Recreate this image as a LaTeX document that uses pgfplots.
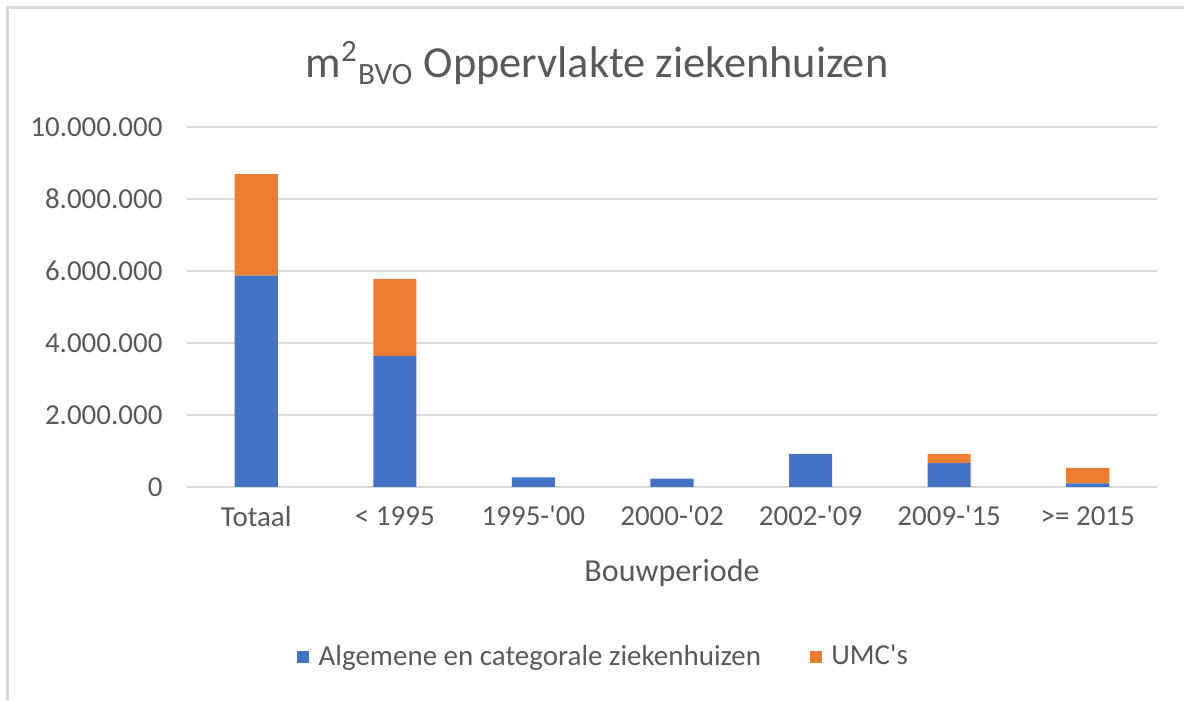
\documentclass[border=0pt]{standalone}
\usepackage{fontspec}
\setmainfont{Carlito}
\usepackage{pgfplots}
\pgfplotsset{compat=1.18}
\definecolor{xblue}{HTML}{4472C4}
\definecolor{xorange}{HTML}{ED7D31}
\definecolor{xtext}{HTML}{595959}
\definecolor{xgrid}{HTML}{D9D9D9}

\begin{document}
\begin{tikzpicture}
\begin{axis}[
  scale only axis, width=378.3pt, height=140.4pt,
  ybar stacked, bar width=16.8pt,
  xmin=-0.5, xmax=6.5, ymin=0, ymax=10000000,
  xtick={0,1,2,3,4,5,6},
  xticklabels={Totaal,< 1995,1995-\textquotesingle 00,2000-\textquotesingle 02,2002-\textquotesingle 09,2009-\textquotesingle 15,>= 2015},
  ytick={0,2000000,4000000,6000000,8000000,10000000},
  scaled y ticks=false,
  /pgf/number format/.cd, fixed, 1000 sep={.}, assume math mode=true, /pgfplots/.cd,
  axis line style={draw=none}, tick style={draw=none},
  ymajorgrids, grid style={xgrid,line width=0.8pt},
  ticklabel style={font=\fontsize{11.3}{13}\selectfont, text=xtext},
  xticklabel style={yshift=-4pt},
  yticklabel style={xshift=-6pt},
  xlabel={Bouwperiode},
  xlabel style={font=\fontsize{12.5}{15}\selectfont, text=xtext, at={(axis description cs:0.5,-0.239)}, anchor=center},
  legend style={draw=none, fill=none, at={(axis description cs:0.431,-0.472)}, anchor=center,
    font=\fontsize{11.3}{13}\selectfont, text=xtext, legend columns=2,
    /tikz/every even column/.append style={column sep=17pt}},
  legend image code/.code={\draw[#1,draw=none] (0pt,-2.4pt) rectangle (4.8pt,2.4pt); \path (6.4pt,0pt);},
]
\addplot[fill=xblue, draw=none] coordinates {(0,5870000) (1,3640000) (2,270000) (3,230000) (4,920000) (5,660000) (6,100000)};
\addplot[fill=xorange, draw=none] coordinates {(0,2820000) (1,2140000) (2,0) (3,0) (4,0) (5,260000) (6,430000)};
\legend{Algemene en categorale ziekenhuizen, UMC\textquotesingle s}
\coordinate (o) at (rel axis cs:0,0);
\coordinate (t) at (rel axis cs:1,1);
\end{axis}
\path[use as bounding box] ([shift={(-72.9pt,-83.1pt)}]o) rectangle ([shift={(10.5pt,49.5pt)}]t);
\coordinate (fl) at ([shift={(-69.8pt,0pt)}]o);
\coordinate (ft) at ([shift={(0pt,46.4pt)}]t);
\draw[xgrid, line width=1.2pt] ([yshift=-83.1pt]fl) -- (fl |- ft) -- ([xshift=10.5pt]ft);
\node[font=\fontsize{17.3}{20}\selectfont, text=xtext] at ([shift={(159.9pt,165.4pt)}]o) {m\textsuperscript{2}\textsubscript{BVO} Oppervlakte ziekenhuizen};
\end{tikzpicture}
\end{document}
